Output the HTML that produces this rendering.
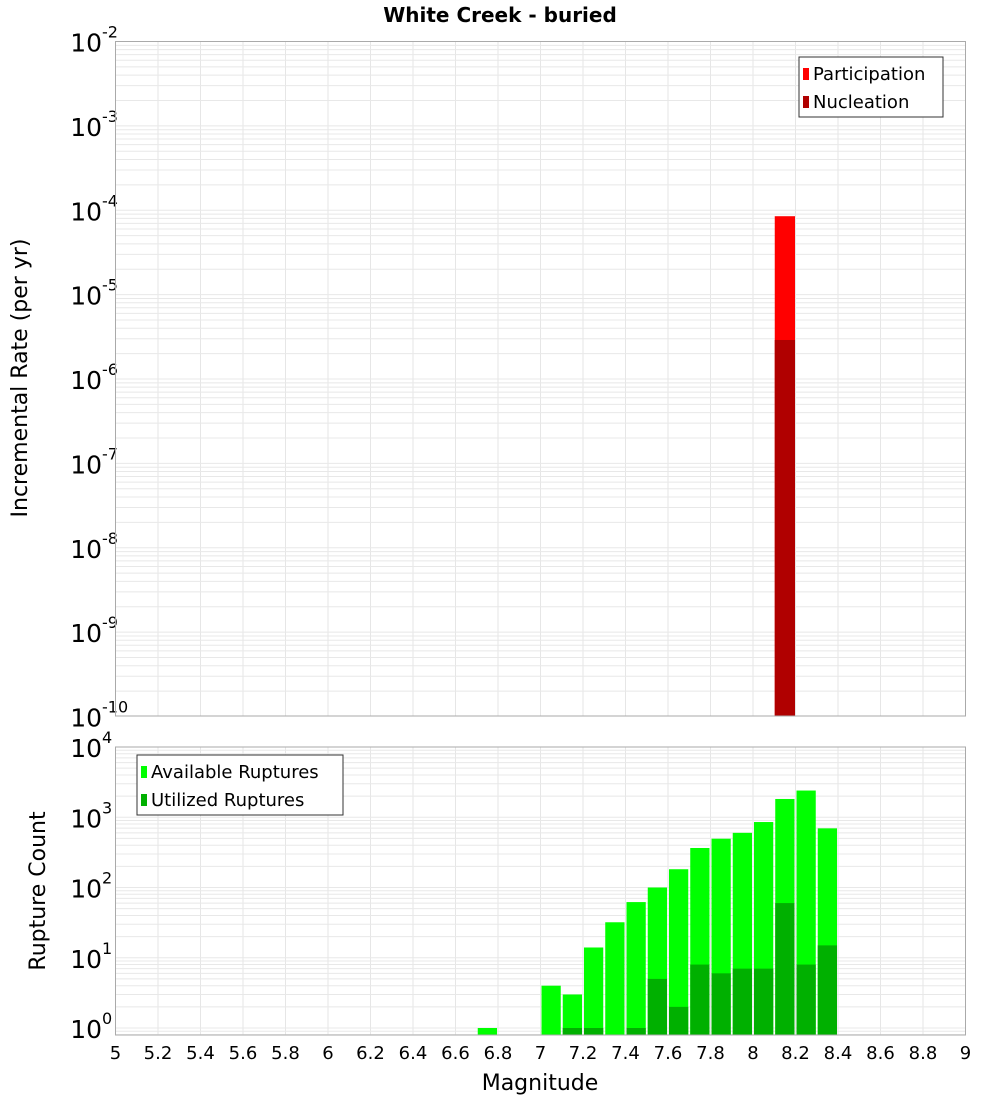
<!DOCTYPE html>
<html><head><meta charset="utf-8"><style>
body{margin:0;background:#fff;}
svg{display:block;font-family:"DejaVu Sans","Liberation Sans",sans-serif;}
</style></head><body>
<svg id="c" width="1000" height="1100" viewBox="0 0 1000 1100" xmlns="http://www.w3.org/2000/svg">
<text x="500" y="22" text-anchor="middle" font-size="20" font-weight="bold">White Creek - buried</text>
<g id="top"></g><g id="bot"></g>
<text transform="translate(27,378) rotate(-90)" text-anchor="middle" font-size="22">Incremental Rate (per yr)</text>
<text transform="translate(45,891) rotate(-90)" text-anchor="middle" font-size="22">Rupture Count</text>
<text x="540" y="1090" text-anchor="middle" font-size="22">Magnitude</text>
</svg>
<script>
const partMags=[8.1];
const partRates=[8.5e-5];
const nuclMags=[8.1];
const nuclRates=[2.9e-6];
const countMags=[6.7,7.0,7.1,7.2,7.3,7.4,7.5,7.6,7.7,7.8,7.9,8.0,8.1,8.2,8.3];
const availCounts=[1,4,3,14,32,62,100,182,365,495,600,855,1820,2400,695];
const usedMagsArr=[7.1,7.2,7.4,7.5,7.6,7.7,7.8,7.9,8.0,8.1,8.2,8.3];
const usedCounts=[1,1,1,5,2,8,6,7,7,60,8,15];
const xTicks=[5,5.2,5.4,5.6,5.8,6,6.2,6.4,6.6,6.8,7,7.2,7.4,7.6,7.8,8,8.2,8.4,8.6,8.8,9];
const topExps=[-2,-3,-4,-5,-6,-7,-8,-9,-10];
const botExps=[0,1,2,3,4];

const NS="http://www.w3.org/2000/svg";
const L=115.5,R=965.5;
const x=m=>L+(m-5)/4*(R-L);
function mk(tag,at,parent){const e=document.createElementNS(NS,tag);for(const k in at)e.setAttribute(k,at[k]);parent.appendChild(e);return e;}
function yTop(v){return 41.5+(-2-Math.log10(v))*84.375;}
function yBot(v){return 1028-Math.log10(v)*70.25;}

function panel(g,top,bot,yf,lo,hi,exps,name){
  for(const t of xTicks){const l=mk('line',{x1:x(t),x2:x(t),y1:top,y2:bot,stroke:'#e6e6e6','stroke-width':1},g);
    
    }
  for(let e=lo;e<=hi;e++)for(let k=1;k<10;k++){const v=k*Math.pow(10,e);const yy=yf(v);if(yy<top||yy>bot)continue;
    const l=mk('line',{x1:L,x2:R,y1:yy,y2:yy,stroke:'#e8e8e8','stroke-width':1},g);
    
    }
  for(const e of exps){const yy=yf(Math.pow(10,e));
    const t=mk('text',{x:102,y:yy+10,'text-anchor':'end','font-size':25},g);
    
    
    t.textContent='10';
    const s=mk('text',{x:102,y:yy-4,'font-size':16},g);
    
    
    s.textContent=String(e);}
}
const gt=document.getElementById('top'),gb=document.getElementById('bot');
panel(gt,41.5,716,yTop,-10,-3,topExps,'rate-panel');
panel(gb,747,1035,yBot,-1,3,botExps,'count-panel');

partMags.forEach((m,i)=>{const r=mk('rect',{x:x(m)+0.5,y:yTop(partRates[i]),width:x(m+0.1)-x(m)-1,height:716-yTop(partRates[i]),fill:'#ff0000'},gt);
  
  });
nuclMags.forEach((m,i)=>{const r=mk('rect',{x:x(m)+0.5,y:yTop(nuclRates[i]),width:x(m+0.1)-x(m)-1,height:716-yTop(nuclRates[i]),fill:'#b00000'},gt);
  
  });
countMags.forEach((m,i)=>{const yy=yBot(availCounts[i]);const r=mk('rect',{x:x(m)+1,y:yy,width:x(m+0.1)-x(m)-2,height:1035-yy,fill:'#00ff00'},gb);
  
  });
usedMagsArr.forEach((m,i)=>{const yy=yBot(usedCounts[i]);const r=mk('rect',{x:x(m)+1,y:yy,width:x(m+0.1)-x(m)-2,height:1035-yy,fill:'#00b000'},gb);
  
  });

[[41.5,716],[747,1035]].forEach(([a,b])=>{const r=mk('rect',{x:L,y:a,width:R-L,height:b-a,fill:'none',stroke:'#aaa','stroke-width':1},gb);
  
  });
xTicks.forEach(t=>{const e=mk('text',{x:x(t),y:1059,'text-anchor':'middle','font-size':18},gb);
  
  
  e.textContent=String(t);});

function legend(g,lx,ly,w,items,name){
  const b=mk('rect',{x:lx,y:ly,width:w,height:60,fill:'#fff',stroke:'#333','stroke-width':1},g);
  
  
  items.forEach(([lab,col],i)=>{
    const s=mk('rect',{x:lx+4,y:ly+11+i*28,width:6,height:12,fill:col},g);
    
    
    const t=mk('text',{x:lx+14,y:ly+23+i*28,'font-size':18},g);
    
    
    t.textContent=lab;});
}
legend(gt,799,57,144,[['Participation','#ff0000'],['Nucleation','#b00000']],'rate-legend');
legend(gb,137,755,206,[['Available Ruptures','#00ff00'],['Utilized Ruptures','#00b000']],'count-legend');
</script>
</body></html>
